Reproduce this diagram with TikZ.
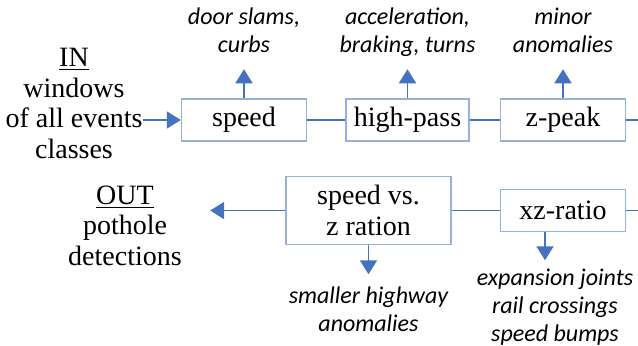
\documentclass[tikz,border=0pt]{standalone}
\usepackage{fontspec}
\setmainfont{Liberation Serif}
\newfontfamily\notefont{Carlito}
\usepackage{xcolor}
\usetikzlibrary{arrows.meta,positioning}

\definecolor{flowblue}{RGB}{68,114,190}
\definecolor{boxblue}{RGB}{150,176,222}

\begin{document}
\begin{tikzpicture}[
        x=0.5pt, y=0.5pt,
        flowstep/.style={
            draw=boxblue,
            line width=0.75pt,
            align=center,
            minimum width=62.5pt,
            minimum height=21pt,
            inner sep=2pt,
            font=\fontsize{14}{15.5}\selectfont
        },
        endtext/.style={
            align=center,
            inner sep=0pt,
            font=\fontsize{14}{15.2}\selectfont
        },
        note/.style={
            align=center,
            inner sep=0pt,
            text depth=3pt,
            font=\notefont\itshape\fontsize{12}{14}\selectfont
        },
        link/.style={draw=flowblue, line width=0.9pt},
        arrow/.style={link, -{Triangle[length=7pt, width=8.5pt]}}
    ]
        \useasboundingbox (0,0) rectangle (638,345);

        % top row
        \node[flowstep] (speed) at (244,225) {speed};
        \node[flowstep, right=19pt of speed, minimum width=61.5pt] (highpass) {high-pass};
        \node[flowstep, right=15pt of highpass] (zpeak) {z-peak};
        \coordinate (ztail) at ([xshift=7.5pt]zpeak.east);

        % bottom row
        \node[flowstep, below=23.5pt of zpeak] (xzratio) {xz-ratio};
        \node[flowstep, left=24pt of xzratio, minimum width=82.5pt, minimum height=34pt] (speedz) {speed vs.\\z ration};
        \coordinate (xztail) at ([xshift=7.5pt]xzratio.east);

        % input and output
        \node[endtext] (in) at (74,241.5) {\underline{IN}\\windows\\of all events\\classes};
        \node[endtext] (out) at (125,119.5) {\underline{OUT}\\pothole\\detections};
        \coordinate[right=14pt of out.east] (outtip);

        % what each step filters out
        \coordinate[above=14.5pt of speed] (speedtip);
        \coordinate[above=14.5pt of highpass] (hptip);
        \coordinate[above=14.5pt of zpeak] (zpeaktip);
        \coordinate[below=14.5pt of speedz] (speedztip);
        \coordinate (xzfoot) at ([xshift=-9pt]xzratio.south);
        \coordinate[below=14pt of xzfoot] (xztip);

        \node[note, above=5pt of speedtip] (slams) {door slams,\\curbs};
        \node[note, above=5pt of hptip] (accel) {acceleration,\\braking, turns};
        \node[note, above=5pt of zpeaktip] (minor) {minor\\anomalies};
        \node[note, below=6pt of speedztip] (highway) {smaller highway\\anomalies};
        \node[note, below=4pt of xztip, xshift=5pt] (joints) {expansion joints\\rail crossings\\speed bumps};

        \draw[arrow] (in.east |- speed.west) -- (speed.west);
        \draw[link] (speed) -- (highpass);
        \draw[link] (highpass) -- (zpeak);
        \draw[link] (zpeak.east) -- (ztail);
        \draw[link] (xzratio.east) -- (xztail);
        \draw[link] (xzratio) -- (speedz);
        \draw[arrow] (speedz.west) -- (speedz.west -| outtip);

        \draw[arrow] (speed) -- (speedtip);
        \draw[arrow] (highpass) -- (hptip);
        \draw[arrow] (zpeak) -- (zpeaktip);
        \draw[arrow] (speedz) -- (speedztip);
        \draw[arrow] (xzfoot) -- (xztip);
    \end{tikzpicture}
\end{document}
